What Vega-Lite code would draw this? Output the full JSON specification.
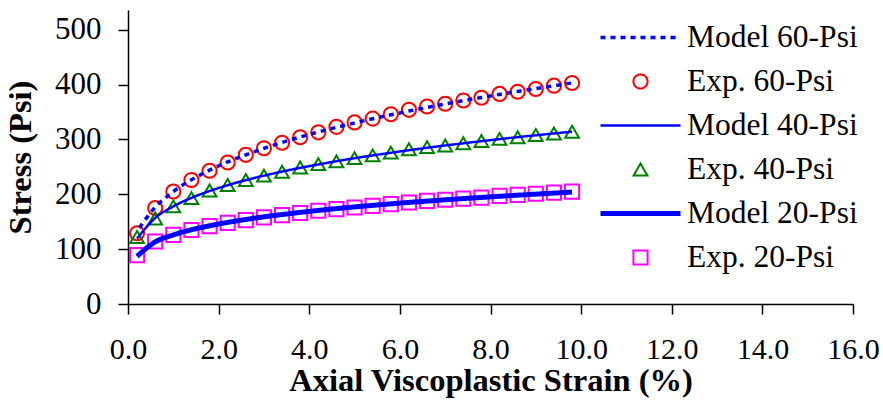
{
  "$schema": "https://vega.github.io/schema/vega-lite/v6.json",
  "width": 725,
  "height": 294,
  "autosize": {"type": "none"},
  "padding": {"left": 128, "top": 10, "right": 30, "bottom": 99},
  "background": "white",
  "config": {
    "view": {"stroke": null},
    "axis": {
      "grid": false,
      "domainColor": "black",
      "tickColor": "black",
      "domainWidth": 1.5,
      "tickWidth": 1.5,
      "tickSize": 10,
      "labelFont": "'Liberation Serif', 'Times New Roman', 'DejaVu Serif', serif",
      "titleFont": "'Liberation Serif', 'Times New Roman', 'DejaVu Serif', serif",
      "labelFontSize": 30,
      "titleFontSize": 32.5,
      "titleFontWeight": "bold",
      "labelColor": "black",
      "titleColor": "black",
      "labelFlush": false,
      "labelOverlap": false
    },
    "legend": {
      "orient": "none",
      "legendX": 470,
      "legendY": 12,
      "padding": 0,
      "labelFont": "'Liberation Serif', 'Times New Roman', 'DejaVu Serif', serif",
      "labelFontSize": 31.5,
      "labelColor": "black",
      "labelLimit": 400,
      "labelOffset": 4,
      "clipHeight": 31,
      "rowPadding": 12,
      "symbolOpacity": 1
    }
  },
  "datasets": {
    "exp": [
      {"x": 0.2, "y": 129, "series": "Exp. 60-Psi"}, {"x": 0.6, "y": 175, "series": "Exp. 60-Psi"}, {"x": 1.0, "y": 205, "series": "Exp. 60-Psi"}, {"x": 1.4, "y": 226, "series": "Exp. 60-Psi"}, {"x": 1.8, "y": 243, "series": "Exp. 60-Psi"}, {"x": 2.2, "y": 258, "series": "Exp. 60-Psi"}, {"x": 2.6, "y": 272, "series": "Exp. 60-Psi"}, {"x": 3.0, "y": 284, "series": "Exp. 60-Psi"}, {"x": 3.4, "y": 294, "series": "Exp. 60-Psi"}, {"x": 3.8, "y": 304, "series": "Exp. 60-Psi"}, {"x": 4.2, "y": 313, "series": "Exp. 60-Psi"}, {"x": 4.6, "y": 323, "series": "Exp. 60-Psi"}, {"x": 5.0, "y": 331, "series": "Exp. 60-Psi"}, {"x": 5.4, "y": 338, "series": "Exp. 60-Psi"}, {"x": 5.8, "y": 346, "series": "Exp. 60-Psi"}, {"x": 6.2, "y": 354, "series": "Exp. 60-Psi"}, {"x": 6.6, "y": 360, "series": "Exp. 60-Psi"}, {"x": 7.0, "y": 365, "series": "Exp. 60-Psi"}, {"x": 7.4, "y": 371, "series": "Exp. 60-Psi"}, {"x": 7.8, "y": 376, "series": "Exp. 60-Psi"}, {"x": 8.2, "y": 383, "series": "Exp. 60-Psi"}, {"x": 8.6, "y": 387, "series": "Exp. 60-Psi"}, {"x": 9.0, "y": 392, "series": "Exp. 60-Psi"}, {"x": 9.4, "y": 398, "series": "Exp. 60-Psi"}, {"x": 9.8, "y": 403, "series": "Exp. 60-Psi"},
      {"x": 0.2, "y": 122, "series": "Exp. 40-Psi"}, {"x": 0.6, "y": 156, "series": "Exp. 40-Psi"}, {"x": 1.0, "y": 178, "series": "Exp. 40-Psi"}, {"x": 1.4, "y": 193, "series": "Exp. 40-Psi"}, {"x": 1.8, "y": 207, "series": "Exp. 40-Psi"}, {"x": 2.2, "y": 217, "series": "Exp. 40-Psi"}, {"x": 2.6, "y": 226, "series": "Exp. 40-Psi"}, {"x": 3.0, "y": 234, "series": "Exp. 40-Psi"}, {"x": 3.4, "y": 241, "series": "Exp. 40-Psi"}, {"x": 3.8, "y": 249, "series": "Exp. 40-Psi"}, {"x": 4.2, "y": 255, "series": "Exp. 40-Psi"}, {"x": 4.6, "y": 260, "series": "Exp. 40-Psi"}, {"x": 5.0, "y": 266, "series": "Exp. 40-Psi"}, {"x": 5.4, "y": 271, "series": "Exp. 40-Psi"}, {"x": 5.8, "y": 276, "series": "Exp. 40-Psi"}, {"x": 6.2, "y": 282, "series": "Exp. 40-Psi"}, {"x": 6.6, "y": 286, "series": "Exp. 40-Psi"}, {"x": 7.0, "y": 289, "series": "Exp. 40-Psi"}, {"x": 7.4, "y": 293, "series": "Exp. 40-Psi"}, {"x": 7.8, "y": 297, "series": "Exp. 40-Psi"}, {"x": 8.2, "y": 301, "series": "Exp. 40-Psi"}, {"x": 8.6, "y": 304, "series": "Exp. 40-Psi"}, {"x": 9.0, "y": 308, "series": "Exp. 40-Psi"}, {"x": 9.4, "y": 311, "series": "Exp. 40-Psi"}, {"x": 9.8, "y": 314, "series": "Exp. 40-Psi"},
      {"x": 0.2, "y": 89, "series": "Exp. 20-Psi"}, {"x": 0.6, "y": 114, "series": "Exp. 20-Psi"}, {"x": 1.0, "y": 126, "series": "Exp. 20-Psi"}, {"x": 1.4, "y": 135, "series": "Exp. 20-Psi"}, {"x": 1.8, "y": 142, "series": "Exp. 20-Psi"}, {"x": 2.2, "y": 148, "series": "Exp. 20-Psi"}, {"x": 2.6, "y": 153, "series": "Exp. 20-Psi"}, {"x": 3.0, "y": 158, "series": "Exp. 20-Psi"}, {"x": 3.4, "y": 162, "series": "Exp. 20-Psi"}, {"x": 3.8, "y": 166, "series": "Exp. 20-Psi"}, {"x": 4.2, "y": 170, "series": "Exp. 20-Psi"}, {"x": 4.6, "y": 173, "series": "Exp. 20-Psi"}, {"x": 5.0, "y": 176, "series": "Exp. 20-Psi"}, {"x": 5.4, "y": 179, "series": "Exp. 20-Psi"}, {"x": 5.8, "y": 182, "series": "Exp. 20-Psi"}, {"x": 6.2, "y": 185, "series": "Exp. 20-Psi"}, {"x": 6.6, "y": 188, "series": "Exp. 20-Psi"}, {"x": 7.0, "y": 190, "series": "Exp. 20-Psi"}, {"x": 7.4, "y": 192, "series": "Exp. 20-Psi"}, {"x": 7.8, "y": 194, "series": "Exp. 20-Psi"}, {"x": 8.2, "y": 197, "series": "Exp. 20-Psi"}, {"x": 8.6, "y": 199, "series": "Exp. 20-Psi"}, {"x": 9.0, "y": 201, "series": "Exp. 20-Psi"}, {"x": 9.4, "y": 203, "series": "Exp. 20-Psi"}, {"x": 9.8, "y": 205, "series": "Exp. 20-Psi"}
    ],
    "model": [
      {"x": 0.25, "y": 139, "series": "Model 60-Psi"}, {"x": 0.6, "y": 176.3, "series": "Model 60-Psi"}, {"x": 1.0, "y": 205, "series": "Model 60-Psi"}, {"x": 1.4, "y": 226.5, "series": "Model 60-Psi"}, {"x": 1.8, "y": 244, "series": "Model 60-Psi"}, {"x": 2.2, "y": 259, "series": "Model 60-Psi"}, {"x": 2.6, "y": 272, "series": "Model 60-Psi"}, {"x": 3.0, "y": 283.8, "series": "Model 60-Psi"}, {"x": 3.4, "y": 294.6, "series": "Model 60-Psi"}, {"x": 3.8, "y": 304.4, "series": "Model 60-Psi"}, {"x": 4.2, "y": 313.5, "series": "Model 60-Psi"}, {"x": 4.6, "y": 322, "series": "Model 60-Psi"}, {"x": 5.0, "y": 330, "series": "Model 60-Psi"}, {"x": 5.4, "y": 337.7, "series": "Model 60-Psi"}, {"x": 5.8, "y": 344.9, "series": "Model 60-Psi"}, {"x": 6.2, "y": 351.8, "series": "Model 60-Psi"}, {"x": 6.6, "y": 358.4, "series": "Model 60-Psi"}, {"x": 7.0, "y": 364.7, "series": "Model 60-Psi"}, {"x": 7.4, "y": 370.7, "series": "Model 60-Psi"}, {"x": 7.8, "y": 376.5, "series": "Model 60-Psi"}, {"x": 8.2, "y": 382.1, "series": "Model 60-Psi"}, {"x": 8.6, "y": 387.6, "series": "Model 60-Psi"}, {"x": 9.0, "y": 392.8, "series": "Model 60-Psi"}, {"x": 9.4, "y": 397.9, "series": "Model 60-Psi"}, {"x": 9.8, "y": 403, "series": "Model 60-Psi"},
      {"x": 0.2, "y": 119.2, "series": "Model 40-Psi"}, {"x": 0.6, "y": 156.8, "series": "Model 40-Psi"}, {"x": 1.0, "y": 178, "series": "Model 40-Psi"}, {"x": 1.4, "y": 193.5, "series": "Model 40-Psi"}, {"x": 1.8, "y": 206, "series": "Model 40-Psi"}, {"x": 2.2, "y": 216.6, "series": "Model 40-Psi"}, {"x": 2.6, "y": 225.9, "series": "Model 40-Psi"}, {"x": 3.0, "y": 234, "series": "Model 40-Psi"}, {"x": 3.4, "y": 241.4, "series": "Model 40-Psi"}, {"x": 3.8, "y": 248.2, "series": "Model 40-Psi"}, {"x": 4.2, "y": 254.4, "series": "Model 40-Psi"}, {"x": 4.6, "y": 260.3, "series": "Model 40-Psi"}, {"x": 5.0, "y": 265.8, "series": "Model 40-Psi"}, {"x": 5.4, "y": 270.9, "series": "Model 40-Psi"}, {"x": 5.8, "y": 275.7, "series": "Model 40-Psi"}, {"x": 6.2, "y": 280.4, "series": "Model 40-Psi"}, {"x": 6.6, "y": 284.8, "series": "Model 40-Psi"}, {"x": 7.0, "y": 289, "series": "Model 40-Psi"}, {"x": 7.4, "y": 293, "series": "Model 40-Psi"}, {"x": 7.8, "y": 296.9, "series": "Model 40-Psi"}, {"x": 8.2, "y": 300.6, "series": "Model 40-Psi"}, {"x": 8.6, "y": 304.2, "series": "Model 40-Psi"}, {"x": 9.0, "y": 307.6, "series": "Model 40-Psi"}, {"x": 9.4, "y": 310.9, "series": "Model 40-Psi"}, {"x": 9.8, "y": 314.1, "series": "Model 40-Psi"},
      {"x": 0.2, "y": 87, "series": "Model 20-Psi"}, {"x": 0.6, "y": 113.2, "series": "Model 20-Psi"}, {"x": 1.0, "y": 126, "series": "Model 20-Psi"}, {"x": 1.4, "y": 135.3, "series": "Model 20-Psi"}, {"x": 1.8, "y": 142.6, "series": "Model 20-Psi"}, {"x": 2.2, "y": 148.8, "series": "Model 20-Psi"}, {"x": 2.6, "y": 154.1, "series": "Model 20-Psi"}, {"x": 3.0, "y": 158.9, "series": "Model 20-Psi"}, {"x": 3.4, "y": 163.1, "series": "Model 20-Psi"}, {"x": 3.8, "y": 167, "series": "Model 20-Psi"}, {"x": 4.2, "y": 170.6, "series": "Model 20-Psi"}, {"x": 4.6, "y": 173.9, "series": "Model 20-Psi"}, {"x": 5.0, "y": 177, "series": "Model 20-Psi"}, {"x": 5.4, "y": 179.8, "series": "Model 20-Psi"}, {"x": 5.8, "y": 182.6, "series": "Model 20-Psi"}, {"x": 6.2, "y": 185.2, "series": "Model 20-Psi"}, {"x": 6.6, "y": 187.6, "series": "Model 20-Psi"}, {"x": 7.0, "y": 190, "series": "Model 20-Psi"}, {"x": 7.4, "y": 192.2, "series": "Model 20-Psi"}, {"x": 7.8, "y": 194.3, "series": "Model 20-Psi"}, {"x": 8.2, "y": 196.4, "series": "Model 20-Psi"}, {"x": 8.6, "y": 198.4, "series": "Model 20-Psi"}, {"x": 9.0, "y": 200.3, "series": "Model 20-Psi"}, {"x": 9.4, "y": 202.2, "series": "Model 20-Psi"}, {"x": 9.8, "y": 204, "series": "Model 20-Psi"}
    ]
  },
  "encoding": {
    "x": {
      "field": "x",
      "type": "quantitative",
      "scale": {"domain": [0, 16], "nice": false},
      "axis": {
        "title": "Axial Viscoplastic Strain (%)",
        "values": [0, 2, 4, 6, 8, 10, 12, 14, 16],
        "format": ".1f",
        "labelPadding": 20,
        "titlePadding": 0
      }
    },
    "y": {
      "field": "y",
      "type": "quantitative",
      "scale": {"domain": [0, 536], "nice": false},
      "axis": {
        "title": "Stress (Psi)",
        "values": [0, 100, 200, 300, 400, 500],
        "labelFontSize": 31,
        "labelPadding": 17,
        "titlePadding": 17
      }
    }
  },
  "layer": [
    {
      "data": {"name": "exp"},
      "mark": {"type": "point", "filled": false, "strokeWidth": 2, "opacity": 1},
      "encoding": {
        "color": {
          "field": "series",
          "type": "nominal",
          "title": null,
          "scale": {
            "domain": ["Model 60-Psi", "Exp. 60-Psi", "Model 40-Psi", "Exp. 40-Psi", "Model 20-Psi", "Exp. 20-Psi"],
            "range": ["#0000FF", "#FF0000", "#0000FF", "#008000", "#0000FF", "#FF00FF"]
          }
        },
        "shape": {
          "field": "series",
          "type": "nominal",
          "title": null,
          "scale": {
            "domain": ["Model 60-Psi", "Exp. 60-Psi", "Model 40-Psi", "Exp. 40-Psi", "Model 20-Psi", "Exp. 20-Psi"],
            "range": ["stroke", "circle", "stroke", "triangle-up", "stroke", "square"]
          }
        },
        "size": {
          "field": "series",
          "type": "nominal",
          "title": null,
          "scale": {
            "type": "ordinal",
            "domain": ["Model 60-Psi", "Exp. 60-Psi", "Model 40-Psi", "Exp. 40-Psi", "Model 20-Psi", "Exp. 20-Psi"],
            "range": [6400, 200, 6400, 190, 6400, 200]
          }
        }
      }
    },
    {
      "data": {"name": "model"},
      "mark": {"type": "line", "interpolate": "monotone"},
      "encoding": {
        "color": {
          "field": "series",
          "type": "nominal",
          "title": null,
          "scale": {
            "domain": ["Model 60-Psi", "Exp. 60-Psi", "Model 40-Psi", "Exp. 40-Psi", "Model 20-Psi", "Exp. 20-Psi"],
            "range": ["#0000FF", "#FF0000", "#0000FF", "#008000", "#0000FF", "#FF00FF"]
          }
        },
        "strokeDash": {
          "field": "series",
          "type": "nominal",
          "title": null,
          "scale": {
            "domain": ["Model 60-Psi", "Exp. 60-Psi", "Model 40-Psi", "Exp. 40-Psi", "Model 20-Psi", "Exp. 20-Psi"],
            "range": [[5, 5], [1, 0], [1, 0], [1, 0], [1, 0], [1, 0]]
          }
        },
        "strokeWidth": {
          "field": "series",
          "type": "nominal",
          "title": null,
          "scale": {
            "type": "ordinal",
            "domain": ["Model 60-Psi", "Exp. 60-Psi", "Model 40-Psi", "Exp. 40-Psi", "Model 20-Psi", "Exp. 20-Psi"],
            "range": [3.5, 2, 2.5, 2, 5, 2]
          }
        }
      }
    }
  ]
}
